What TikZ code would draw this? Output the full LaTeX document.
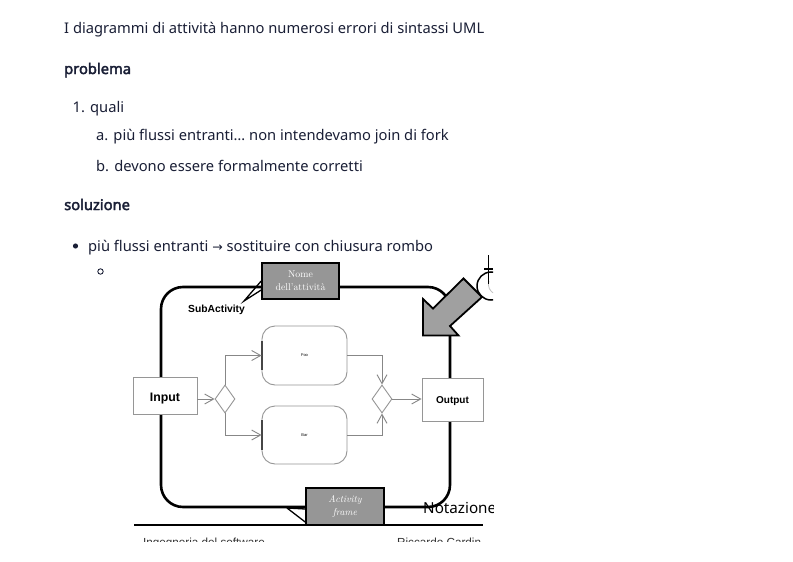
\documentclass[tikz,border=0pt]{standalone}
\usepackage{fontspec}
\newfontfamily\notosans{Noto Sans}
\newfontfamily\notobold{Noto Sans}[FakeBold=2.6]
\newfontfamily\dejavu{DejaVu Sans}
\newfontfamily\arialfont{Liberation Sans}
\usetikzlibrary{arrows.meta,shapes.geometric,calc}
\definecolor{txt}{HTML}{1A1F36}
\definecolor{linegray}{RGB}{135,135,135}
\definecolor{boxgray}{RGB}{150,150,150}
\definecolor{calloutgray}{RGB}{150,150,150}
\definecolor{arrowgray}{RGB}{160,160,160}
\definecolor{pingray}{RGB}{70,70,70}
\tikzset{
  mdtext/.style={anchor=base west, inner sep=0pt, text=txt, font=\notosans\fontsize{14.7}{17}\selectfont},
  mdbold/.style={mdtext, font=\notobold\fontsize{14.7}{17}\selectfont},
  framepath/.style={draw=black, line width=2.6pt},
  iobox/.style={draw=boxgray, line width=0.9pt, fill=white, inner sep=0pt, font=\arialfont\bfseries},
  actbox/.style={draw=boxgray, line width=0.9pt, fill=white, inner sep=0pt, rounded corners=13pt, minimum width=85pt, font=\arialfont\fontsize{4}{4}\selectfont},
  rombo/.style={diamond, draw=boxgray, line width=0.9pt, fill=white, inner sep=0pt, minimum width=20pt, minimum height=28pt},
  conn/.style={draw=linegray, line width=0.9pt, -{Straight Barb[length=9pt,width=10pt]}},
  pinline/.style={draw=pingray, line width=2pt},
  callout/.style={draw=black, line width=1.6pt, fill=calloutgray, inner sep=0pt, text=white, align=center, font=\fontsize{9.8}{13}\selectfont},
  pointer/.style={draw=black, line width=1.3pt},
  footer/.style={anchor=base west, inner sep=0pt, text=black!80, font=\arialfont\fontsize{11.7}{14}\selectfont},
}
\begin{document}
\begin{tikzpicture}[x=1pt,y=-1pt]
\useasboundingbox (0,0) rectangle (793,562);
\fill[white] (0,0) rectangle (793,562);

% markdown text
\node[mdtext] (l1) at (64,33.5) {I diagrammi di attività hanno numerosi errori di sintassi UML};
\node[mdbold] (h1) at (64,74) {problema};
\node[mdtext] (n1) at (72.5,112.5) {1. quali};
\node[mdtext] (na) at (96,140) {a. più flussi entranti… non intendevamo join di fork};
\node[mdtext] (nb) at (96,171.5) {b. devono essere formalmente corretti};
\node[mdbold] (h2) at (64,210) {soluzione};
\fill[txt] (75.5,246) circle (2.6pt);
\node[mdtext] (b1) at (88,251) {più flussi entranti {\dejavu\fontsize{12.5}{14}\selectfont →} sostituire con chiusura rombo};
\draw[txt, line width=0.9pt] (100.5,271.5) circle (2.7pt);

% embedded diagram
\begin{scope}
\clip (132,255) rectangle (493,541);
% frame
\draw[framepath, rounded corners=22pt] (161,287) rectangle (450,507);
% bottom rule
\draw[black, line width=2.8pt] (134,525) -- (483,525);

% nodes
\node[iobox, minimum width=64pt, minimum height=37pt, text height=12pt, text depth=1pt, font=\arialfont\bfseries\fontsize{12.3}{14}\selectfont] (input) at (165,395.5) {Input};
\node[iobox, minimum width=61pt, minimum height=43pt, text height=8pt, text depth=0.1pt, font=\arialfont\bfseries\fontsize{10}{12}\selectfont] (output) at (452.5,399.5) {Output};
\node[rombo] (d1) at (225,399) {};
\node[rombo] (d2) at (382,399) {};
\node[actbox, minimum height=59pt] (foo) at (304.5,355.5) {Foo};
\node[actbox, minimum height=58pt] (bar) at (304.5,435) {Bar};
\draw[pinline] ([yshift=14.5pt]foo.west) -- ([yshift=-14.5pt]foo.west);
\draw[pinline] ([yshift=15pt]bar.west) -- ([yshift=-15pt]bar.west);

% connectors
\draw[conn] (input.east |- d1.west) -- (d1.west);
\draw[conn] (d1.north) |- (foo.west);
\draw[conn] (d1.south) |- (bar.west);
\draw[conn] (foo.east) -| (d2.north);
\draw[conn] (bar.east) -| (d2.south);
\draw[conn] (d2.east) -- (output.west |- d2.east);

% SubActivity label
\node[anchor=base west, inner sep=0pt, font=\arialfont\bfseries\fontsize{10.3}{12}\selectfont] (sub) at (188,312.5) {SubActivity};

% callout: Nome dell'attività
\node[callout, minimum width=77pt, minimum height=36pt] (nome) at (300.5,281) {Nome\\dell'attività};
\coordinate (nometip) at (244,301);
\draw[pointer] (nome.west) -- (nometip) -- ([yshift=-9pt]nome.west);

% callout: Activity frame
\node[callout, minimum width=78pt, minimum height=37pt, font=\itshape\fontsize{9.8}{13}\selectfont] (frame) at (345,506.5) {Activity\\frame};
\coordinate (frametip) at (287,508);
\draw[pointer] (frametip) -- (frame.west |- 0,509);
\draw[pointer] (frametip) -- (frame.west |- 0,522);

% circle symbol top right
\draw[black, line width=1.5pt, fill=white] (491,286) circle (14pt);
\draw[gray!50, line width=0.8pt] (489,281) arc[start angle=160, end angle=250, radius=10pt];
\draw[black, line width=1.4pt] (488.5,255) -- (488.5,284);
\draw[black, line width=1.2pt] (484,269) -- (493,269);

% big gray arrow
\draw[black, line width=1.8pt, fill=arrowgray, line join=miter]
  (423,299) -- (423,335.5) -- (458.5,335.5) -- (450,326) -- (482,297)
  -- (463.5,278.5) -- (433,308.5) -- cycle;

% Notazione
\node[anchor=base west, inner sep=0pt, text=black, font=\notosans\fontsize{15.2}{17}\selectfont] (nota) at (423,513.5) {Notazione};

% footer (cut)
\node[footer] (f1) at (143,546) {Ingegneria del software};
\node[footer] (f2) at (397,546) {Riccardo Cardin};
\end{scope}
\end{tikzpicture}
\end{document}
